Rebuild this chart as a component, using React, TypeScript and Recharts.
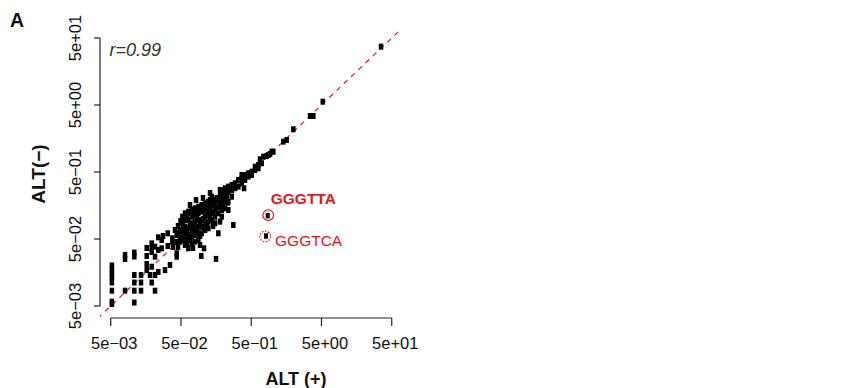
import React from 'react';
import { ScatterChart, Scatter, XAxis, YAxis, ReferenceLine } from 'recharts';

// ---- data ----
const tickValues = [0.005, 0.05, 0.5, 5, 50];
const tickLabels = ['5e\u221203', '5e\u221202', '5e\u221201', '5e+00', '5e+01'];

const altPlus = [
  0.0052, 0.0052, 0.0052, 0.0052, 0.0052, 0.0052, 0.0052, 0.0052,
  0.008, 0.008, 0.008,
  0.01084, 0.01084, 0.01084, 0.01084, 0.01084, 0.01084,
  0.0135, 0.0135, 0.0135,
  0.01627, 0.01627, 0.01627, 0.01627, 0.01813, 0.02136,
  0.01917, 0.01917, 0.01917, 0.01917, 0.01917,
  0.02136, 0.02136, 0.02136,
  0.0238, 0.0238, 0.0238, 0.0266, 0.0266, 0.02965,
  0.0324, 0.0324, 0.0349, 0.0377, 0.0377,
  0.0435, 0.0435, 0.0435, 0.0485, 0.0485, 0.0485,
  0.0523, 0.0523, 0.0523, 0.0523,
  0.0571, 0.0571, 0.0571, 0.0571, 0.0571, 0.0571,
  0.0636, 0.0636, 0.0636, 0.0636, 0.0636, 0.0636,
  0.0711, 0.0711, 0.0711, 0.0711, 0.0711, 0.0711,
  0.0792, 0.0792, 0.0792, 0.0792, 0.0792, 0.0792,
  0.0883, 0.0883, 0.0883, 0.0883, 0.0883, 0.0883,
  0.0987, 0.0987, 0.0987, 0.0987, 0.0987, 0.0974, 0.1064,
  0.11, 0.11, 0.11, 0.11, 0.11,
  0.1226, 0.1226, 0.1226, 0.1226, 0.1226,
  0.137, 0.137, 0.137, 0.137,
  0.1527, 0.1527, 0.1527, 0.1527, 0.1577,
  0.17, 0.17, 0.17, 0.17, 0.18,
  0.19, 0.19, 0.19, 0.19, 0.19,
  0.212, 0.212, 0.212, 0.212,
  0.236, 0.236, 0.236, 0.236,
  0.264, 0.264, 0.264, 0.278,
  0.294, 0.294, 0.328, 0.328,
  0.366, 0.366, 0.366, 0.395, 0.408, 0.408,
  0.455, 0.455, 0.508, 0.508, 0.566, 0.566, 0.631, 0.631,
  0.705, 0.744, 0.831, 0.876, 0.979, 1.032,
  1.432, 1.6, 1.987, 3.44, 3.83, 5.21, 35.2,
  0.0454, 0.0535, 0.0672, 0.0819, 0.103, 0.1296, 0.143, 0.0934, 0.0742,
  0.02777, 0.0411, 0.0454,
  0.667, 0.926, 0.18, 0.2315, 0.1965,
  0.0544, 0.0544, 0.0604, 0.0604, 0.0604, 0.0672, 0.0672, 0.0672,
  0.075, 0.075, 0.075, 0.0838, 0.0838, 0.0838, 0.0934, 0.0934, 0.0934,
  0.104, 0.104, 0.104, 0.1163, 0.1163, 0.1163, 0.1296, 0.1296, 0.1296,
  0.1444, 0.1444, 0.1614, 0.1614, 0.18, 0.18, 0.2004, 0.2004, 0.224, 0.224,
  0.0493, 0.0469, 0.0425, 0.0385,
];

const altMinus = [
  0.0201, 0.0175, 0.0153, 0.01355, 0.0112, 0.00846, 0.0058, 0.00535,
  0.0289, 0.0252, 0.00846,
  0.0314, 0.0274, 0.0145, 0.0112, 0.00846, 0.00564,
  0.0145, 0.0112, 0.00846,
  0.0367, 0.0279, 0.0212, 0.0172, 0.0145, 0.00846,
  0.0431, 0.0363, 0.032, 0.0193, 0.0112,
  0.0384, 0.0272, 0.0145,
  0.053, 0.0343, 0.0161, 0.0483, 0.0363, 0.0172,
  0.0608, 0.0393, 0.0205, 0.0512, 0.0456,
  0.0574, 0.0306, 0.0272, 0.0681, 0.0541, 0.0456,
  0.1076, 0.0858, 0.0681, 0.0574,
  0.1209, 0.0961, 0.0763, 0.0608, 0.0483, 0.0407,
  0.1278, 0.0961, 0.0722, 0.0574, 0.0483, 0.0363,
  0.1355, 0.1076, 0.0858, 0.0681, 0.0541, 0.0431,
  0.1436, 0.114, 0.0906, 0.0722, 0.0574, 0.0456,
  0.1518, 0.1209, 0.0961, 0.0763, 0.0608, 0.0483,
  0.161, 0.1278, 0.0961, 0.0763, 0.0608, 0.0279, 0.0363,
  0.1706, 0.1355, 0.1076, 0.0858, 0.0681,
  0.18, 0.1436, 0.114, 0.0906, 0.0722,
  0.214, 0.161, 0.1278, 0.0961,
  0.1706, 0.1355, 0.1076, 0.0858, 0.0252,
  0.191, 0.1518, 0.1209, 0.0608, 0.0906,
  0.269, 0.214, 0.1706, 0.1355, 0.1076,
  0.286, 0.227, 0.18, 0.1436,
  0.302, 0.254, 0.18, 0.1355,
  0.32, 0.269, 0.214, 0.0809,
  0.339, 0.286, 0.38, 0.302,
  0.451, 0.403, 0.339, 0.286, 0.451, 0.38,
  0.478, 0.426, 0.505, 0.451, 0.6, 0.535, 0.636, 0.568,
  0.674, 0.846, 0.867, 0.897, 1.005, 1.005,
  1.417, 1.502, 2.169, 3.425, 3.425, 5.6, 37.1,
  0.0782, 0.0483, 0.161, 0.191, 0.2046, 0.243, 0.0782, 0.0407, 0.0367,
  0.0554, 0.0681, 0.038,
  0.774, 0.928, 0.269, 0.174, 0.161,
  0.0768, 0.0518, 0.1028, 0.0658, 0.0436, 0.1222, 0.0782, 0.05,
  0.1265, 0.0782, 0.0614, 0.1309, 0.1028, 0.0658, 0.14, 0.0867, 0.0554,
  0.15, 0.0994, 0.0755, 0.161, 0.1222, 0.0782, 0.191, 0.145, 0.1065,
  0.191, 0.1222, 0.2046, 0.15, 0.219, 0.1665, 0.2515, 0.198, 0.269, 0.212,
  0.0928, 0.0614, 0.0451, 0.038,
];

const outlierNames = ['GGGTTA', 'GGGTCA'];
const outlierPlus = [0.859, 0.812];
const outlierMinus = [0.1114, 0.0554];

const panelLabel = 'A';
const correlationLabel = 'r=0.99';
const xTitle = 'ALT (+)';
const yTitle = 'ALT(\u2212)';

const xDomain = [0.00352, 65.5];
const yDomain = [0.00331, 63.5];

// ---- derived tables ----
const points = altPlus.map((x, i) => ({ x, y: altMinus[i] }));
const outlierA = [{ x: outlierPlus[0], y: outlierMinus[0], name: outlierNames[0] }];
const outlierB = [{ x: outlierPlus[1], y: outlierMinus[1], name: outlierNames[1] }];

const RED = '#e8141c';
const FONT = '"Liberation Sans", Arial, Helvetica, sans-serif';
const INK = '#111';

const labelFor = (v: number) => {
  const i = tickValues.findIndex((t) => Math.abs(t - v) / t < 1e-6);
  return i >= 0 ? tickLabels[i] : String(v);
};

const XTick = (props: any) => {
  const { x, payload } = props;
  return (
    <text x={x + 3.5} y={348.5} textAnchor="middle" fontSize={16.5} fill={INK} fontFamily={FONT}>
      {labelFor(payload.value)}
    </text>
  );
};

const YTick = (props: any) => {
  const { y, payload } = props;
  const bx = 81.5;
  return (
    <text
      x={bx}
      y={y}
      transform={`rotate(-90, ${bx}, ${y})`}
      textAnchor="middle"
      fontSize={16.5}
      fill={INK}
      fontFamily={FONT}
    >
      {labelFor(payload.value)}
    </text>
  );
};

const Square = (props: any) => {
  const { cx, cy } = props;
  if (cx == null || cy == null) return null;
  return <rect x={cx - 2.25} y={cy - 3} width={4.5} height={6} fill="#000" />;
};

const OutlierSolid = (props: any) => {
  const { cx, cy, payload } = props;
  if (cx == null || cy == null) return null;
  return (
    <g>
      <rect x={cx - 2} y={cy - 2.75} width={4} height={5.5} fill="#000" />
      <circle cx={cx + 0.5} cy={cy - 0.5} r={5.3} fill="none" stroke={RED} strokeWidth={1.2} />
      <text x={cx + 3} y={cy - 11.7} fill={RED} fontSize={15.5} fontWeight="bold" fontFamily={FONT}>
        {payload.name}
      </text>
    </g>
  );
};

const OutlierDotted = (props: any) => {
  const { cx, cy, payload } = props;
  if (cx == null || cy == null) return null;
  return (
    <g>
      <rect x={cx - 2} y={cy - 2.75} width={4} height={5.5} fill="#000" />
      <circle cx={cx - 0.8} cy={cy + 0.5} r={5.3} fill="none" stroke={RED} strokeWidth={1.2} strokeDasharray="1.6 1.4" />
      <text x={cx + 9} y={cy + 10} fill={RED} fontSize={15.5} fontFamily={FONT}>
        {payload.name}
      </text>
    </g>
  );
};

export default function App() {
  return (
    <div style={{ position: 'absolute', left: 0, top: 0, width: 862, height: 388, background: '#fff' }}>
      <ScatterChart width={862} height={388} margin={{ top: 31, right: 462, bottom: 20, left: 40 }}>
        <XAxis
          dataKey="x"
          type="number"
          scale="log"
          domain={xDomain}
          allowDataOverflow
          ticks={tickValues}
          tick={<XTick />}
          tickSize={8}
          axisLine={false}
          tickLine={{ stroke: '#222', strokeWidth: 1.2 }}
          height={50}
          interval={0}
          label={{
            content: () => (
              <text x={296} y={385} textAnchor="middle" fontSize={18} fontWeight="bold" fill={INK} fontFamily={FONT}>
                {xTitle}
              </text>
            ),
          }}
        />
        <YAxis
          dataKey="y"
          type="number"
          scale="log"
          domain={yDomain}
          allowDataOverflow
          ticks={tickValues}
          tick={<YTick />}
          tickSize={6}
          axisLine={false}
          tickLine={{ stroke: '#222', strokeWidth: 1.2 }}
          width={60}
          interval={0}
          label={{
            content: () => (
              <text
                x={45}
                y={174}
                transform="rotate(-90, 45, 174)"
                textAnchor="middle"
                fontSize={19}
                fontWeight="bold"
                fill={INK}
                fontFamily={FONT}
              >
                {yTitle}
              </text>
            ),
          }}
        />
        <ReferenceLine
          segment={[{ x: tickValues[0], y: yDomain[0] }, { x: tickValues[4], y: yDomain[0] }]}
          stroke="#222"
          strokeWidth={1.2}
          ifOverflow="visible"
        />
        <ReferenceLine
          segment={[{ x: xDomain[0], y: tickValues[0] }, { x: xDomain[0], y: tickValues[4] }]}
          stroke="#222"
          strokeWidth={1.2}
          ifOverflow="visible"
        />
        <ReferenceLine
          segment={[{ x: 0.001, y: 0.001 }, { x: 200, y: 200 }]}
          stroke={RED}
          strokeWidth={1.2}
          strokeDasharray="5 5"
          ifOverflow="hidden"
        />
        <Scatter data={points} shape={<Square />} isAnimationActive={false} />
        <Scatter data={outlierA} shape={<OutlierSolid />} isAnimationActive={false} />
        <Scatter data={outlierB} shape={<OutlierDotted />} isAnimationActive={false} />
      </ScatterChart>
      <svg
        width={862}
        height={388}
        style={{ position: 'absolute', left: 0, top: 0, pointerEvents: 'none' }}
      >
        <text x={10} y={27.3} fontSize={19.5} fontWeight="bold" fill={INK} fontFamily={FONT}>
          {panelLabel}
        </text>
        <text x={109.5} y={56} fontSize={18} fontStyle="italic" fill="#333" fontFamily={FONT}>
          {correlationLabel}
        </text>
      </svg>
    </div>
  );
}
